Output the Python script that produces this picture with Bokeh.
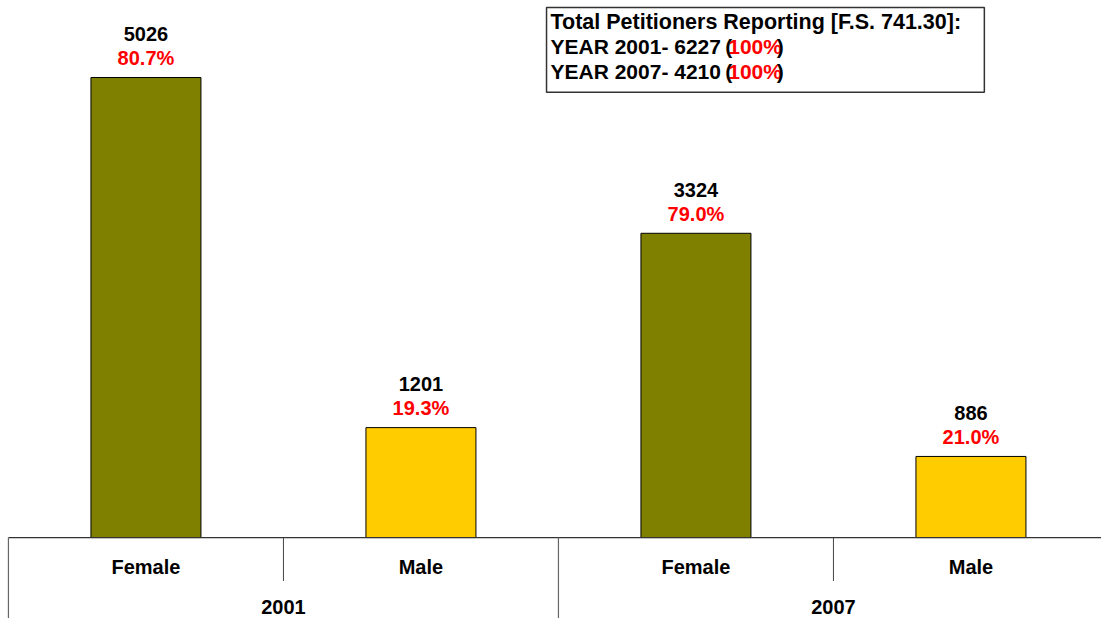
from bokeh.plotting import figure
from bokeh.models import Range1d, ColumnDataSource
from bokeh.core.properties import value
from bokeh.embed import file_html
from bokeh.resources import INLINE

# ---- data ----
genders = ["Female", "Male", "Female", "Male"]
years = ["2001", "2007"]
counts = [5026, 1201, 3324, 886]
percents = [80.7, 19.3, 79.0, 21.0]
totals = [6227, 4210]
bar_colors = ["#808000", "#FFCC00", "#808000", "#FFCC00"]
legend_title = "Total Petitioners Reporting [F.S. 741.30]:"

# ---- layout helpers (reference-pixel geometry, scaled into the figure) ----
W, H = 1101, 618
REF_W, REF_H = 1109, 626
SLOT = 277.0              # reference px per category slot
U = 5026 / 466.0          # data units per reference pixel (vertical)
BASE = 544                # reference y of the axis line
LEFT = 8                  # reference x of the left edge line

def dx(px):
    return (px - LEFT) / SLOT

def dy(py):
    return (BASE - py) * U

p = figure(width=W, height=H, output_backend="svg", toolbar_location=None,
           x_range=Range1d(dx(0), dx(REF_W)), y_range=Range1d(dy(REF_H), dy(0)),
           min_border=0, min_border_left=0, min_border_right=0,
           min_border_top=0, min_border_bottom=0)
p.axis.visible = False
p.grid.visible = False
p.outline_line_color = None
p.background_fill_color = "white"
p.border_fill_color = "white"

FONT = value("Liberation Sans")
LBL = "20px"
LEG_T = "21.5px"
LEG = "21px"

xs = [i + 0.5 for i in range(len(counts))]
src = ColumnDataSource(dict(x=xs, top=counts, color=bar_colors,
                            num_y=[c + 44 * U for c in counts],
                            pct_y=[c + 20 * U for c in counts],
                            num=[str(c) for c in counts],
                            pct=["%.1f%%" % v for v in percents],
                            gender=genders))

p.vbar(x="x", top="top", bottom=0, width=0.4, fill_color="color",
       line_color="black", line_width=1, source=src)

# labels above bars
p.text(x="x", y="num_y", text="num", source=src, text_font=FONT,
       text_font_style="bold", text_font_size=LBL, text_color="black",
       text_align="center", text_baseline="middle")
p.text(x="x", y="pct_y", text="pct", source=src, text_font=FONT,
       text_font_style="bold", text_font_size=LBL, text_color="#FF0000",
       text_align="center", text_baseline="middle")

# axis line & category separators
p.segment(x0=[dx(LEFT)], y0=[0], x1=[dx(REF_W)], y1=[0],
          line_color="#333333", line_width=1.2)
p.segment(x0=[0, 2, 4], y0=[0, 0, 0], x1=[0, 2, 4], y1=[dy(REF_H)] * 3,
          line_color="#666666", line_width=1.2)
p.segment(x0=[1, 3], y0=[0, 0], x1=[1, 3], y1=[dy(588)] * 2,
          line_color="#444444", line_width=1)

# category labels
p.text(x="x", y=dy(574), text="gender", source=src, text_font=FONT,
       text_font_style="bold", text_font_size=LBL, text_color="black",
       text_align="center", text_baseline="middle")
p.text(x=[1, 3], y=[dy(614)] * 2, text=years, text_font=FONT,
       text_font_style="bold", text_font_size=LBL, text_color="black",
       text_align="center", text_baseline="middle")

# legend box
p.quad(left=[dx(550)], right=[dx(991)], top=[dy(7)], bottom=[dy(93)],
       fill_color="white", line_color="#333333", line_width=1.5)
lx = dx(554)
p.text(x=[lx], y=[dy(21.5)], text=[legend_title], text_font=FONT,
       text_font_style="bold", text_font_size=LEG_T, text_color="black",
       text_baseline="middle")
lines = ["YEAR %s- %d" % (y, t) for y, t in zip(years, totals)]
ly = [dy(47), dy(72)]
p.text(x=[lx, lx], y=ly, text=lines, text_font=FONT,
       text_font_style="bold", text_font_size=LEG, text_color="black",
       text_baseline="middle")
p.text(x=[dx(730)] * 2, y=ly, text=["(", "("], text_font=FONT,
       text_font_style="bold", text_font_size=LEG, text_color="black",
       text_baseline="middle")
p.text(x=[dx(733)] * 2, y=ly, text=["100%", "100%"], text_font=FONT,
       text_font_style="bold", text_font_size=LEG, text_color="#FF0000",
       text_baseline="middle")
p.text(x=[dx(782)] * 2, y=ly, text=[")", ")"], text_font=FONT,
       text_font_style="bold", text_font_size=LEG, text_color="black",
       text_baseline="middle")

open("out.html", "w").write(file_html(p, INLINE))
